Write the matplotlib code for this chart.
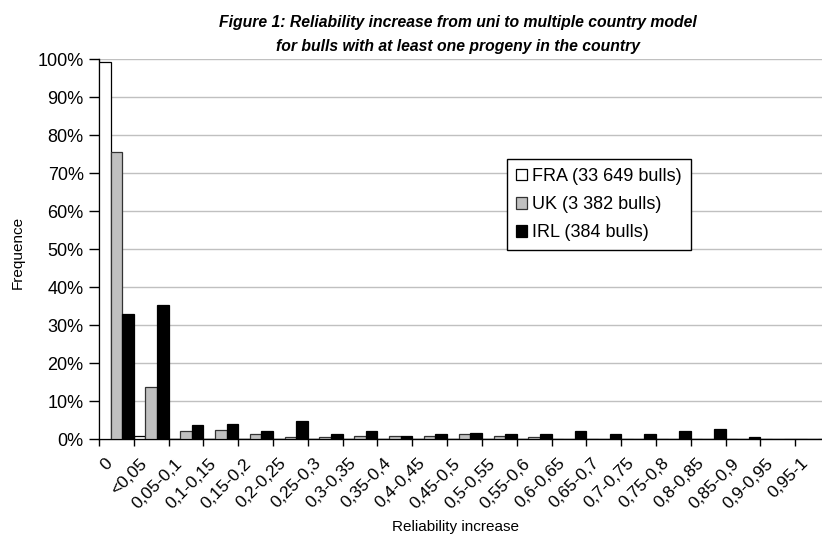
import numpy as np
import matplotlib
matplotlib.use('Agg')
from matplotlib import pyplot as plt
from matplotlib.transforms import ScaledTranslation
from matplotlib.ticker import PercentFormatter

plt.rcParams['font.family'] = ['Liberation Sans', 'DejaVu Sans']

categories = ['0', '<0,05', '0,05-0,1', '0,1-0,15', '0,15-0,2', '0,2-0,25', '0,25-0,3',
              '0,3-0,35', '0,35-0,4', '0,4-0,45', '0,45-0,5', '0,5-0,55', '0,55-0,6',
              '0,6-0,65', '0,65-0,7', '0,7-0,75', '0,75-0,8', '0,8-0,85', '0,85-0,9',
              '0,9-0,95', '0,95-1']
fra = [99.2, 0.8, 0, 0, 0, 0, 0, 0, 0, 0, 0, 0, 0, 0, 0, 0, 0, 0, 0, 0, 0]
uk = [75.4, 13.7, 2.0, 2.5, 1.4, 0.5, 0.5, 0.8, 0.8, 0.8, 1.4, 0.8, 0.5,
      0, 0, 0, 0, 0, 0, 0, 0]
irl = [32.8, 35.2, 3.7, 4.0, 2.0, 4.8, 1.3, 2.0, 0.8, 1.4, 1.7, 1.3, 1.3,
       2.0, 1.3, 1.3, 2.0, 2.6, 0.5, 0, 0]
series_names = ['FRA (33 649 bulls)', 'UK (3 382 bulls)', 'IRL (384 bulls)']

W, H = 822, 542
fig = plt.figure(figsize=(W / 100, H / 100), dpi=100)
ax = fig.add_axes([99 / W, (H - 439) / H, (830 - 99) / W, (439 - 59) / H])

x = np.arange(len(categories))
bw = 1 / 3
ax.bar(x + bw / 2, np.array(fra) / 100, bw, color='white', edgecolor='black', linewidth=0.9,
       label=series_names[0], zorder=3)
ax.bar(x + 1.5 * bw, np.array(uk) / 100, bw, color='#c0c0c0', edgecolor='#333333', linewidth=0.9,
       label=series_names[1], zorder=3)
ax.bar(x + 2.5 * bw, np.array(irl) / 100, bw, color='black', edgecolor='black', linewidth=0.9,
       label=series_names[2], zorder=3)

ax.set_xlim(0, len(categories))
ax.set_ylim(0, 1)
ax.yaxis.set_major_locator(plt.MultipleLocator(0.1))
ax.yaxis.set_major_formatter(PercentFormatter(1.0, decimals=0))
ax.grid(axis='y', color='#c0c0c0', linewidth=1, zorder=0)
ax.tick_params(axis='y', direction='out', length=7, width=1, labelsize=13, pad=4)

ax.set_xticks(np.arange(len(categories) + 1))
ax.set_xticklabels([])
ax.set_xticks(x + 0.5, minor=True)
ax.set_xticklabels(categories, minor=True, rotation=45, ha='right', rotation_mode='anchor')
ax.tick_params(axis='x', which='major', direction='out', length=5, width=1)
ax.tick_params(axis='x', which='minor', length=0, labelsize=12.5, pad=12)
shift = ScaledTranslation(-12 / 100, 0, fig.dpi_scale_trans)
for lab in ax.get_xticklabels(minor=True):
    lab.set_transform(lab.get_transform() + shift)

for s in ['top', 'right']:
    ax.spines[s].set_visible(False)
for s in ['left', 'bottom']:
    ax.spines[s].set_linewidth(1)

fig.text(18 / W, 1 - 252 / H, 'Frequence', rotation=90, ha='center', va='center', fontsize=11)
fig.text(455 / W, 1 - 527 / H, 'Reliability increase', ha='center', va='center', fontsize=11)
fig.text(458 / W, 1 - 22 / H, 'Figure 1: Reliability increase from uni to multiple country model',
         ha='center', va='center', fontsize=11.3, fontweight='bold', fontstyle='italic')
fig.text(458 / W, 1 - 46 / H, 'for bulls with at least one progeny in the country',
         ha='center', va='center', fontsize=11.3, fontweight='bold', fontstyle='italic')

leg = ax.legend(loc='upper left', bbox_to_anchor=(507 / W, 1 - 159 / H),
                bbox_transform=fig.transFigure, fontsize=13, frameon=True, fancybox=False,
                edgecolor='black', framealpha=1, handlelength=0.6, handleheight=0.6,
                handletextpad=0.3, labelspacing=0.62, borderpad=0.5, borderaxespad=0)
leg.get_frame().set_linewidth(1)

fig.savefig('out.png', dpi=100)
